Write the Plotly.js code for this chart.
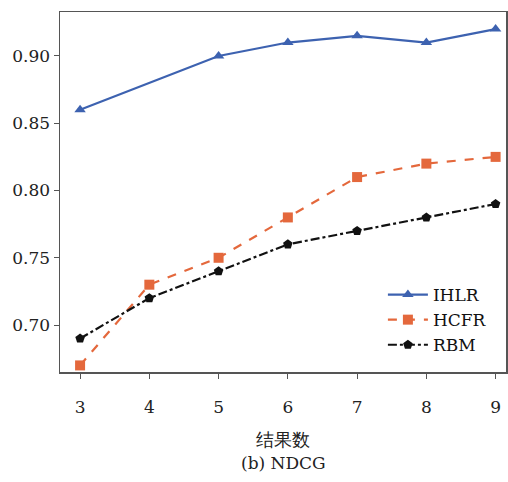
<!DOCTYPE html>
<html>
<head>
<meta charset="utf-8">
<script src="https://cdn.plot.ly/plotly-3.0.1.min.js"></script>
<style>html,body{margin:0;padding:0;background:#fff;}</style>
</head>
<body>
<div id="chart" style="width:508px;height:482px;"></div>
<script>
const xAll = [3, 4, 5, 6, 7, 8, 9];
const xIHLR = [3, 5, 6, 7, 8, 9];
const ihlr = [0.86, 0.90, 0.91, 0.915, 0.91, 0.92];
const hcfr = [0.67, 0.73, 0.75, 0.78, 0.81, 0.82, 0.825];
const rbm = [0.69, 0.72, 0.74, 0.76, 0.77, 0.78, 0.79];
const yTicks = [0.70, 0.75, 0.80, 0.85, 0.90];
const yTickText = ['0.70', '0.75', '0.80', '0.85', '0.90'];

const serif = 'DejaVu Serif';

const traces = [
  {x: xIHLR, y: ihlr, name: 'IHLR', mode: 'lines+markers',
   line: {color: '#3d62b0', width: 2.2},
   marker: {symbol: 'triangle-up', size: 10, color: '#3d62b0'}},
  {x: xAll, y: hcfr, name: 'HCFR', mode: 'lines+markers',
   line: {color: '#e4683c', width: 2.2, dash: 'dash'},
   marker: {symbol: 'square', size: 10, color: '#e4683c'}},
  {x: xAll, y: rbm, name: 'RBM', mode: 'lines+markers',
   line: {color: '#111111', width: 2.2, dash: 'dashdot'},
   marker: {symbol: 'pentagon', size: 10, color: '#111111'}}
];

const layout = {
  width: 508, height: 482,
  margin: {l: 60, r: 2, t: 12, b: 110},
  paper_bgcolor: '#ffffff', plot_bgcolor: '#ffffff',
  font: {family: serif, size: 17, color: '#222'},
  showlegend: true,
  legend: {x: 0.724, y: 0.025, xanchor: 'left', yanchor: 'bottom',
           bgcolor: 'rgba(0,0,0,0)', font: {family: serif, size: 17, color: '#111'},
           tracegroupgap: 0, itemwidth: 40},
  xaxis: {range: [2.71, 9.15], tickvals: xAll, ticktext: xAll.map(String),
          ticks: 'outside', ticklen: 5, tickcolor: '#555', showgrid: false, zeroline: false,
          showline: true, linecolor: '#555', linewidth: 1.5, mirror: true,
          ticklabelstandoff: 14,
          tickfont: {family: serif, size: 17, color: '#222'}},
  yaxis: {range: [0.6651, 0.9327], tickvals: yTicks, ticktext: yTickText,
          ticks: 'outside', ticklen: 5, tickcolor: '#555', showgrid: false, zeroline: false,
          showline: true, linecolor: '#555', linewidth: 1.5, mirror: true,
          tickfont: {family: serif, size: 17, color: '#222'}},
  annotations: [
    {text: '结果数', xref: 'paper', yref: 'paper', x: 0.5, y: -0.188,
     xanchor: 'center', yanchor: 'middle', showarrow: false,
     font: {family: serif, size: 18, color: '#222'}},
    {text: '(b) NDCG', xref: 'paper', yref: 'paper', x: 0.5, y: -0.252,
     xanchor: 'center', yanchor: 'middle', showarrow: false,
     font: {family: serif, size: 17, color: '#222'}}]
};

Plotly.newPlot('chart', traces, layout, {displayModeBar: false, staticPlot: true});
</script>
</body>
</html>
